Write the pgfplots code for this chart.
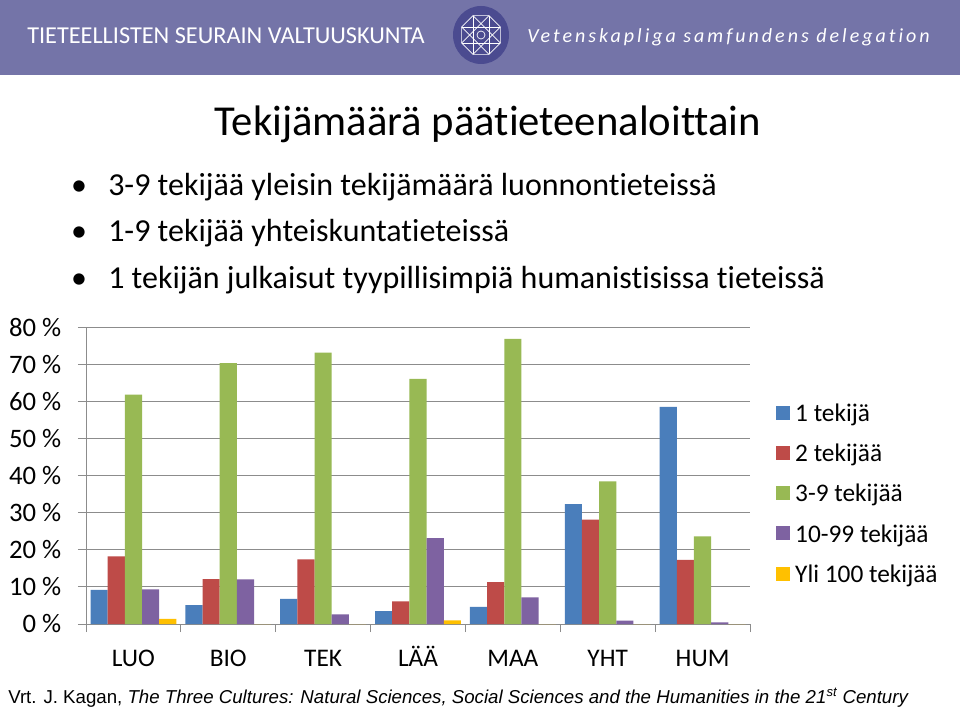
\documentclass[border=0pt]{standalone}
\usepackage{fontspec}
\setmainfont{Carlito}[Ligatures=NoCommon]
\newfontfamily\arialfont{Liberation Sans}
\newfontfamily\spacedfont[LetterSpace=15,Ligatures=NoCommon]{Carlito}
\usepackage{pgfplots}
\pgfplotsset{compat=1.18}
\definecolor{cBanner}{HTML}{7474A8}
\definecolor{cLogo}{HTML}{4B4B90}
\definecolor{cOne}{HTML}{4A7EBB}
\definecolor{cTwo}{HTML}{BE4B48}
\definecolor{cThree}{HTML}{98B954}
\definecolor{cFour}{HTML}{7E62A1}
\definecolor{cFive}{HTML}{FFC000}
\definecolor{cGrid}{HTML}{8C8C8C}

\begin{document}
\begin{tikzpicture}[x=0.75pt,y=-0.75pt]
  \useasboundingbox (0,0) rectangle (960,709);
  \fill[white] (0,0) rectangle (960,709);
  % banner
  \fill[cBanner] (0,0) rectangle (960,75);
  \node[anchor=west, text=white, font=\fontsize{18.2}{20}\selectfont, inner sep=0] at (27,36)
    {TIETEELLISTEN SEURAIN VALTUUSKUNTA};
  \node[anchor=west, text=white, font=\spacedfont\itshape\fontsize{15}{18}\selectfont, inner sep=0] at (527,37)
    {Vetenskapliga samfundens delegation};
  \fill[cLogo] (481,35) ellipse [x radius=28, y radius=29];
  \begin{scope}[shift={(481,35)}, white, line width=0.5pt]
    \draw (22.5:21) -- (67.5:21) -- (112.5:21) -- (157.5:21) -- (202.5:21)
      -- (247.5:21) -- (292.5:21) -- (337.5:21) -- cycle;
    \foreach \a in {22.5,67.5,...,337.5}
      \draw (\a:21) -- (\a+135:21);
    \draw (0,0) circle [radius=4];
  \end{scope}

  % title and bullets
  \node[font=\fontsize{32}{38}\selectfont] at (488,124) {Tekijämäärä päätieteenaloittain};
  \foreach \yy/\tx in {196/{3-9 tekijää yleisin tekijämäärä luonnontieteissä},
                       242/{1-9 tekijää yhteiskuntatieteissä},
                       288/{1 tekijän julkaisut tyypillisimpiä humanistisissa tieteissä}} {
    \node[anchor=base, font=\fontsize{24}{28}\selectfont, inner sep=0] at (79,\yy) {\textbullet};
    \node[anchor=base west, font=\fontsize{24}{28}\selectfont, inner sep=0] at (108,\yy) {\tx};
  }

  \begin{axis}[
    at={(64.5pt,-468pt)}, anchor=south west,
    scale only axis, width=498pt, height=222.75pt,
    ybar=0pt, bar width=0.181,
    xmin=-0.5, xmax=6.5, ymin=0, ymax=80,
    xtick={0,...,6}, xticklabels={LUO,BIO,TEK,LÄÄ,MAA,YHT,HUM},
    minor xtick={-0.5,0.5,...,6.5},
    ytick={0,10,...,80},
    yticklabel={\pgfmathparse{int(\tick)}\pgfmathresult~\%},
    axis x line*=bottom, axis y line*=left,
    axis line style={cGrid, line width=0.6pt},
    ymajorgrids, grid style={cGrid, line width=0.6pt},
    tick align=outside,
    major x tick style={draw=none},
    minor x tick style={cGrid, line width=0.6pt},
    major y tick style={cGrid, line width=0.6pt},
    major tick length=6pt, minor tick length=6pt,
    tick label style={font=\fontsize{19}{23}\selectfont},
    xticklabel style={anchor=base, yshift=-26pt},
    yticklabel style={xshift=-9pt, font=\fontsize{20}{24}\selectfont},
    legend style={at={(1.0325,0.76)}, anchor=north west, draw=none, fill=none,
                  font=\fontsize{19}{23}\selectfont, row sep=11.5pt},
    legend cell align=left,
    legend image code/.code={\fill[#1,draw=none] (0pt,-4.5pt) rectangle (10.5pt,6pt); \path (12.5pt,0pt);},
  ]
    \addplot[fill=cOne, draw=none] coordinates {(0,9.2) (1,5.1) (2,6.8) (3,3.5) (4,4.6) (5,32.3) (6,58.5)};
    \addplot[fill=cTwo, draw=none] coordinates {(0,18.2) (1,12.1) (2,17.4) (3,6.1) (4,11.3) (5,28.1) (6,17.3)};
    \addplot[fill=cThree, draw=none] coordinates {(0,61.8) (1,70.3) (2,73.1) (3,66.0) (4,76.8) (5,38.4) (6,23.6)};
    \addplot[fill=cFour, draw=none] coordinates {(0,9.3) (1,12.0) (2,2.6) (3,23.1) (4,7.2) (5,0.9) (6,0.45)};
    \addplot[fill=cFive, draw=none] coordinates {(0,1.35) (1,0) (2,0) (3,1.0) (4,0) (5,0) (6,0)};
    \legend{1 tekijä, 2 tekijää, 3-9 tekijää, 10-99 tekijää, Yli 100 tekijää}
  \end{axis}

  \node[anchor=base west, inner sep=0, font=\arialfont\fontsize{14}{16}\selectfont] at (8,703)
    {Vrt. J. Kagan, \textit{The Three Cultures: Natural Sciences, Social Sciences and the Humanities in the 21\textsuperscript{st} Century}};
\end{tikzpicture}
\end{document}
